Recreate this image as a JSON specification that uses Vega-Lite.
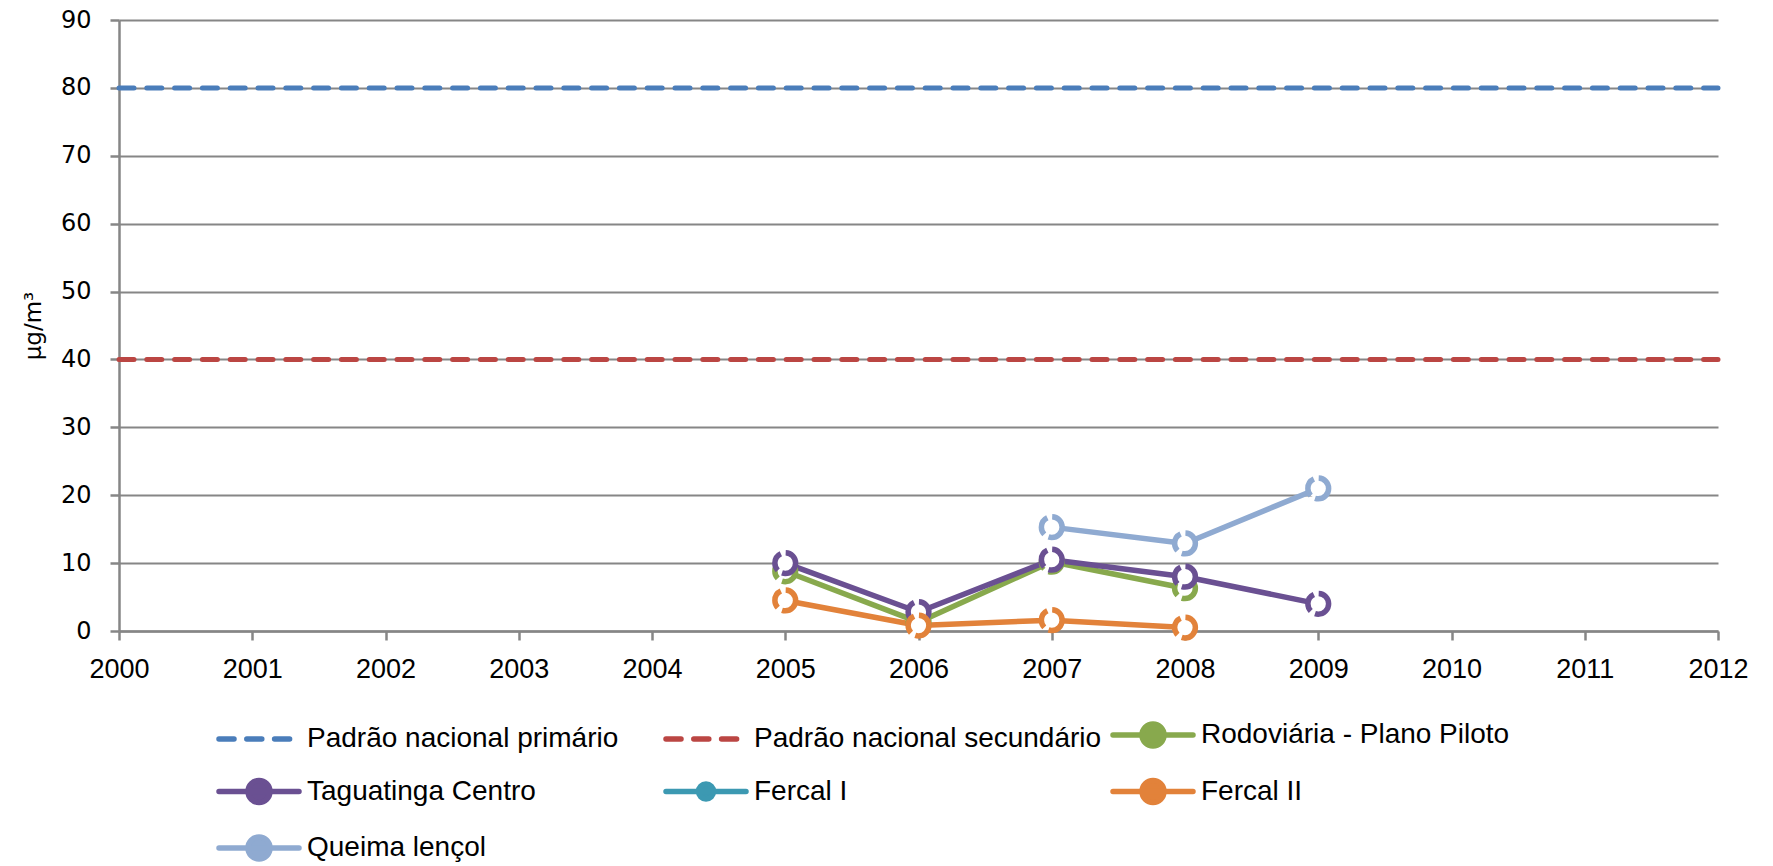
{
  "$schema": "https://vega.github.io/schema/vega-lite/v6.json",
  "width": 1599,
  "height": 611,
  "autosize": {"type": "none"},
  "padding": {"left": 119, "top": 20, "right": 55, "bottom": 235},
  "background": "white",
  "config": {"view": {"stroke": null}},
  "datasets": {
    "standards": [
      {"serie": "Padrão nacional primário", "ano": 2000, "valor": 80},
      {"serie": "Padrão nacional primário", "ano": 2012, "valor": 80},
      {"serie": "Padrão nacional secundário", "ano": 2000, "valor": 40},
      {"serie": "Padrão nacional secundário", "ano": 2012, "valor": 40}
    ],
    "stations": [
      {"serie": "Rodoviária - Plano Piloto", "ano": 2005, "valor": 8.8},
      {"serie": "Rodoviária - Plano Piloto", "ano": 2006, "valor": 1.3},
      {"serie": "Rodoviária - Plano Piloto", "ano": 2007, "valor": 10.2},
      {"serie": "Rodoviária - Plano Piloto", "ano": 2008, "valor": 6.3},
      {"serie": "Taguatinga Centro", "ano": 2005, "valor": 10.0},
      {"serie": "Taguatinga Centro", "ano": 2006, "valor": 2.8},
      {"serie": "Taguatinga Centro", "ano": 2007, "valor": 10.5},
      {"serie": "Taguatinga Centro", "ano": 2008, "valor": 8.0},
      {"serie": "Taguatinga Centro", "ano": 2009, "valor": 4.0},
      {"serie": "Fercal II", "ano": 2005, "valor": 4.5},
      {"serie": "Fercal II", "ano": 2006, "valor": 0.8},
      {"serie": "Fercal II", "ano": 2007, "valor": 1.6},
      {"serie": "Fercal II", "ano": 2008, "valor": 0.5},
      {"serie": "Queima lençol", "ano": 2007, "valor": 15.3},
      {"serie": "Queima lençol", "ano": 2008, "valor": 12.9},
      {"serie": "Queima lençol", "ano": 2009, "valor": 21.0}
    ]
  },
  "encoding": {
    "x": {
      "field": "ano",
      "type": "quantitative",
      "scale": {"domain": [2000, 2012], "nice": false, "zero": false},
      "axis": {
        "title": null,
        "values": [2000, 2001, 2002, 2003, 2004, 2005, 2006, 2007, 2008, 2009, 2010, 2011, 2012],
        "format": "d",
        "grid": false,
        "domainColor": "#868686",
        "domainWidth": 2.5,
        "tickColor": "#868686",
        "tickWidth": 2.5,
        "tickSize": 9,
        "labelPadding": 16,
        "labelFont": "Liberation Sans",
        "labelFontSize": 27,
        "labelColor": "#000000",
        "labelFlush": false,
        "labelOverlap": false
      }
    },
    "y": {
      "field": "valor",
      "type": "quantitative",
      "scale": {"domain": [0, 90], "nice": false},
      "axis": {
        "title": "µg/m³",
        "titleFont": "DejaVu Sans",
        "titleFontSize": 23,
        "titleFontWeight": "normal",
        "titleColor": "#000000",
        "titlePadding": 15,
        "values": [0, 10, 20, 30, 40, 50, 60, 70, 80, 90],
        "grid": true,
        "gridColor": "#868686",
        "gridWidth": 2,
        "domainColor": "#868686",
        "domainWidth": 2.5,
        "tickColor": "#868686",
        "tickWidth": 2.5,
        "tickSize": 9,
        "labelPadding": 19,
        "labelFont": "DejaVu Sans",
        "labelFontSize": 24,
        "labelColor": "#000000",
        "labelFlush": false
      }
    },
    "color": {
      "field": "serie",
      "type": "nominal",
      "scale": {
        "domain": ["Padrão nacional primário", "Padrão nacional secundário", "Rodoviária - Plano Piloto", "Taguatinga Centro", "Fercal I", "Fercal II", "Queima lençol"],
        "range": ["#4A7DBA", "#BB4643", "#88A94D", "#6A5092", "#3C99B2", "#E2823A", "#8FAAD1"]
      },
      "legend": {
        "title": null,
        "orient": "none",
        "legendX": 96,
        "legendY": 701,
        "direction": "horizontal",
        "columns": 3,
        "gridAlign": "all",
        "padding": 0,
        "columnPadding": 0,
        "rowPadding": 12.5,
        "symbolSize": 400,
        "symbolStrokeWidth": 5.5,
        "symbolOffset": 30,
        "labelOffset": 34,
        "labelFont": "Liberation Sans",
        "labelFontSize": 28,
        "labelColor": "#000000",
        "labelLimit": 0,
        "encode": {
          "symbols": {
            "update": {
              "shape": {"signal": "test(/^Padr/, datum.value) ? 'M-4,0H4' : (datum.value === 'Fercal I' ? 'M-4,0H4M-0.75,0a0.75,0.75 0 1,0 1.5,0a0.75,0.75 0 1,0 -1.5,0' : 'M-4,0H4M-1.1,0a1.1,1.1 0 1,0 2.2,0a1.1,1.1 0 1,0 -2.2,0')"},
              "strokeDash": {"signal": "test(/^Padr/, datum.value) ? [15, 12.8] : null"},
              "fill": {"signal": "scale('color', datum.value)"},
              "fillOpacity": {"value": 1},
              "opacity": {"value": 1},
              "strokeCap": {"value": "round"}
            }
          }
        }
      }
    }
  },
  "layer": [
    {
      "data": {"name": "standards"},
      "mark": {"type": "line", "strokeWidth": 5, "strokeDash": [15, 12.8], "strokeCap": "round"}
    },
    {
      "data": {"name": "stations"},
      "mark": {"type": "line", "strokeWidth": 5.5, "strokeCap": "round", "strokeJoin": "round"}
    },
    {
      "data": {"name": "stations"},
      "mark": {"type": "point", "shape": "circle", "size": 430, "strokeWidth": 5.5, "filled": false, "fill": "white", "fillOpacity": 1, "opacity": 1, "strokeDash": [19.5, 5]}
    }
  ]
}
